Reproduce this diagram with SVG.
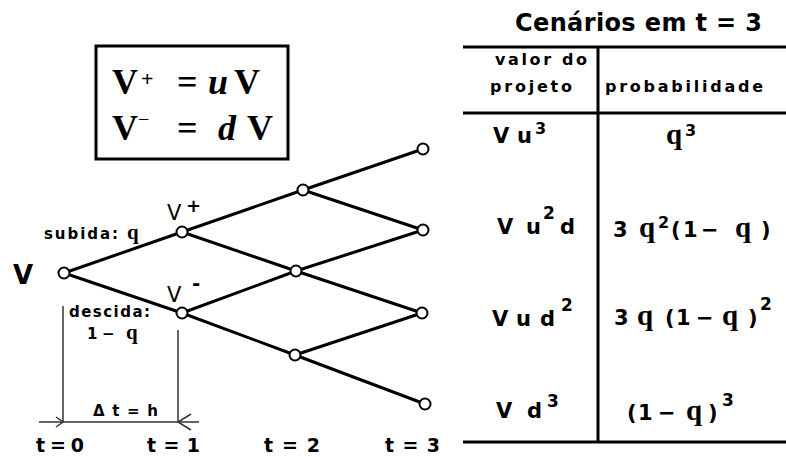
<svg xmlns="http://www.w3.org/2000/svg" width="786" height="457" viewBox="0 0 786 457">
<style>
.edge{stroke:#000;stroke-width:3;stroke-linecap:round;fill:none}
.node{fill:#fff;stroke:#000;stroke-width:2}
.dim{stroke:#333;stroke-width:1.5;fill:none}
.rule{stroke:#000;stroke-width:3;fill:none}
.sb{font-family:"DejaVu Sans",sans-serif;font-weight:bold;fill:#000}
.sr{font-family:"DejaVu Sans",sans-serif;font-weight:normal;fill:#000}
.tm{font-family:"Liberation Serif",serif;font-weight:bold;fill:#000}
.q{font-family:"Liberation Serif",serif;font-weight:bold}
.it{font-style:italic}
</style>
<rect width="786" height="457" fill="#fff"/>

<g id="formula-box">
<rect x="96" y="46" width="192" height="113" fill="#fff" stroke="#000" stroke-width="3"/>
<text class="tm" font-size="36" y="94"><tspan x="112">V</tspan><tspan x="141" y="86" font-size="22">+</tspan><tspan x="177" y="94">=</tspan><tspan x="208" class="it">u</tspan><tspan x="234">V</tspan></text>
<text class="tm" font-size="36" y="140"><tspan x="112">V</tspan><tspan x="138" y="126" font-size="20" font-weight="normal">−</tspan><tspan x="177" y="140">=</tspan><tspan x="218" class="it">d</tspan><tspan x="247">V</tspan></text>
</g>

<g id="connectors">
<line class="edge" x1="64" y1="273" x2="182" y2="232"/>
<line class="edge" x1="64" y1="273" x2="182" y2="313"/>
<line class="edge" x1="182" y1="232" x2="303" y2="190"/>
<line class="edge" x1="182" y1="232" x2="296" y2="271"/>
<line class="edge" x1="182" y1="313" x2="296" y2="271"/>
<line class="edge" x1="182" y1="313" x2="295" y2="355"/>
<line class="edge" x1="303" y1="190" x2="423" y2="149"/>
<line class="edge" x1="303" y1="190" x2="423" y2="230"/>
<line class="edge" x1="296" y1="271" x2="423" y2="230"/>
<line class="edge" x1="296" y1="271" x2="422" y2="313"/>
<line class="edge" x1="295" y1="355" x2="422" y2="313"/>
<line class="edge" x1="295" y1="355" x2="425" y2="404"/>
</g>

<g id="node-V">
<circle class="node" cx="64" cy="273" r="5.5"/>
<text class="sb" font-size="26" x="13" y="284">V</text>
</g>
<g id="node-Vplus">
<circle class="node" cx="182" cy="232" r="5.5"/>
<text class="sr" font-size="21"><tspan x="167" y="220">V</tspan><tspan class="sb" x="186" y="212" font-size="18">+</tspan></text>
<text class="sb" font-size="15" x="44" y="239" textLength="74" lengthAdjust="spacing">subida:</text>
<text class="q" font-size="21" x="127" y="239">q</text>
</g>
<g id="node-Vminus">
<circle class="node" cx="182" cy="313" r="5.5"/>
<text class="sr" font-size="21"><tspan x="167" y="302">V</tspan><tspan class="sb" x="192" y="290" font-size="20">-</tspan></text>
<text class="sb" font-size="15" x="69" y="317" textLength="81" lengthAdjust="spacing">descida:</text>
<text class="sb" font-size="15" y="339"><tspan x="87">1</tspan><tspan x="102">−</tspan><tspan class="q" x="126" font-size="21">q</tspan></text>
</g>
<g id="node-uu">
<circle class="node" cx="303" cy="190" r="5.5"/>
</g>
<g id="node-ud">
<circle class="node" cx="296" cy="271" r="5.5"/>
</g>
<g id="node-dd">
<circle class="node" cx="295" cy="355" r="5.5"/>
</g>
<g id="node-uuu">
<circle class="node" cx="423" cy="149" r="5.5"/>
</g>
<g id="node-uud">
<circle class="node" cx="423" cy="230" r="5.5"/>
</g>
<g id="node-udd">
<circle class="node" cx="422" cy="313" r="5.5"/>
</g>
<g id="node-ddd">
<circle class="node" cx="425" cy="404" r="5.5"/>
</g>

<g id="time-step">
<line class="dim" x1="63" y1="306" x2="63" y2="422"/>
<line class="dim" x1="178" y1="330" x2="178" y2="422"/>
<line class="dim" x1="39" y1="422" x2="199" y2="422"/>
<polyline class="dim" points="56,417 63,422 56,427"/>
<polyline class="dim" points="191,414 178,422 191,430"/>
<text class="sb" font-size="15" x="93" y="416" textLength="65" lengthAdjust="spacing">Δ t = h</text>
</g>

<g id="time-axis">
<text class="sb" font-size="19" x="36" y="452" textLength="48" lengthAdjust="spacing">t = 0</text>
<text class="sb" font-size="19" x="147" y="452" textLength="53" lengthAdjust="spacing">t = 1</text>
<text class="sb" font-size="19" x="264" y="452" textLength="56" lengthAdjust="spacing">t = 2</text>
<text class="sb" font-size="19" x="385" y="452" textLength="55" lengthAdjust="spacing">t = 3</text>
</g>

<g id="table">
<text class="sb" font-size="24" x="515" y="31" textLength="247" lengthAdjust="spacing">Cenários em t = 3</text>
<line class="rule" x1="463" y1="47" x2="786" y2="47"/>
<line class="rule" x1="463" y1="113" x2="786" y2="113"/>
<line class="rule" x1="463" y1="442" x2="786" y2="442"/>
<line class="rule" x1="598" y1="47" x2="598" y2="442"/>
<text class="sb" font-size="16" x="495" y="65" textLength="92" lengthAdjust="spacing">valor do</text>
<text class="sb" font-size="16" x="490" y="92" textLength="82" lengthAdjust="spacing">projeto</text>
<text class="sb" font-size="16" x="605" y="92" textLength="158" lengthAdjust="spacing">probabilidade</text>

<text class="sb" font-size="21" y="143"><tspan x="493">V</tspan><tspan x="517">u</tspan><tspan x="535" y="134" font-size="16">3</tspan></text>
<text class="sb" font-size="21" y="234"><tspan x="497">V</tspan><tspan x="526">u</tspan><tspan x="543" y="219" font-size="17">2</tspan><tspan x="560" y="234">d</tspan></text>
<text class="sb" font-size="21" y="326"><tspan x="492">V</tspan><tspan x="516">u</tspan><tspan x="540">d</tspan><tspan x="561" y="311" font-size="17">2</tspan></text>
<text class="sb" font-size="21" y="418"><tspan x="496">V</tspan><tspan x="527">d</tspan><tspan x="547" y="407" font-size="17">3</tspan></text>

<text class="sb" font-size="21" y="144"><tspan class="q" x="666" font-size="29">q</tspan><tspan x="685" y="136" font-size="16">3</tspan></text>
<text class="sb" font-size="21" y="237"><tspan x="613">3</tspan><tspan class="q" x="639" font-size="29">q</tspan><tspan x="658" y="228" font-size="16">2</tspan><tspan x="671" y="237">(</tspan><tspan x="683">1</tspan><tspan x="701">−</tspan><tspan class="q" x="735" font-size="29">q</tspan><tspan x="761">)</tspan></text>
<text class="sb" font-size="21" y="325"><tspan x="614">3</tspan><tspan class="q" x="637" font-size="29">q</tspan><tspan x="665">(</tspan><tspan x="676">1</tspan><tspan x="696">−</tspan><tspan class="q" x="722" font-size="29">q</tspan><tspan x="748">)</tspan><tspan x="760" y="310" font-size="17">2</tspan></text>
<text class="sb" font-size="21" y="420"><tspan x="627">(</tspan><tspan x="638">1</tspan><tspan x="658">−</tspan><tspan class="q" x="686" font-size="29">q</tspan><tspan x="708">)</tspan><tspan x="722" y="406" font-size="17">3</tspan></text>
</g>
</svg>
